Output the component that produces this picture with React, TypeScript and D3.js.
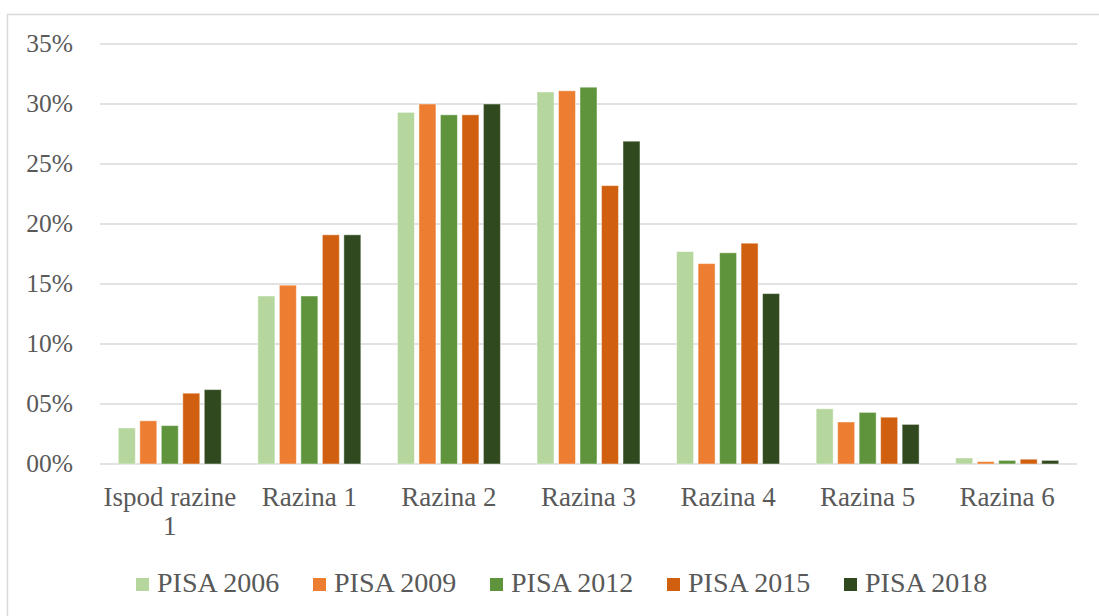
import React from "react";
import * as d3 from "d3";

const categories = ["Ispod razine 1", "Razina 1", "Razina 2", "Razina 3", "Razina 4", "Razina 5", "Razina 6"];
const seriesNames = ["PISA 2006", "PISA 2009", "PISA 2012", "PISA 2015", "PISA 2018"];
const pisa2006 = [3.0, 14.0, 29.3, 31.0, 17.7, 4.6, 0.5];
const pisa2009 = [3.6, 14.9, 30.0, 31.1, 16.7, 3.5, 0.2];
const pisa2012 = [3.2, 14.0, 29.1, 31.4, 17.6, 4.3, 0.3];
const pisa2015 = [5.9, 19.1, 29.1, 23.2, 18.4, 3.9, 0.4];
const pisa2018 = [6.2, 19.1, 30.0, 26.9, 14.2, 3.3, 0.3];
const yTicks = [0, 5, 10, 15, 20, 25, 30, 35];
const colors = ["#b5d69c", "#ed7d31", "#5f943c", "#d0600f", "#30491e"];

const seriesValues = [pisa2006, pisa2009, pisa2012, pisa2015, pisa2018];

const W = 1099;
const H = 616;
const font = "Liberation Serif, serif";
const textColor = "#595959";

export default function App() {
  const x = d3.scaleBand<string>().domain(categories).range([100, 1077]).paddingInner(0.23).paddingOuter(0.115);
  const xs = d3.scaleBand<string>().domain(seriesNames).range([0, x.bandwidth()]).paddingInner(0.21).paddingOuter(0.105);
  const y = d3.scaleLinear().domain([0, 35]).range([464, 44]);

  const fmt = (v: number) => (v < 10 ? "0" + v : "" + v) + "%";

  return (
    <svg width={W} height={H} style={{ position: "absolute", left: 0, top: 0 }}>
      <rect x={7.5} y={14.5} width={W} height={H} fill="#fff" stroke="#d9d9d9" strokeWidth={1.5} />
      {yTicks.map((t) => (
        <g key={t}>
          <line x1={100} x2={1077} y1={y(t)} y2={y(t)} stroke="#d9d9d9" strokeWidth={1.5} />
          <text x={73} y={y(t) + 8} textAnchor="end" fontFamily={font} fontSize={25.5} fill={textColor}>
            {fmt(t)}
          </text>
        </g>
      ))}
      {categories.map((c, i) => (
        <g key={c}>
          {seriesNames.map((s, j) => {
            const v = seriesValues[j][i];
            return (
              <rect
                key={s}
                x={(x(c) as number) + (xs(s) as number)}
                y={y(v)}
                width={xs.bandwidth()}
                height={y(0) - y(v)}
                fill={colors[j]}
                stroke="#ffffff"
                strokeOpacity={0.45}
                strokeWidth={1}
              />
            );
          })}
        </g>
      ))}
      {categories.map((c) => {
        const cx = (x(c) as number) + x.bandwidth() / 2;
        const lines = c === "Ispod razine 1" ? ["Ispod razine", "1"] : [c];
        return (
          <text key={c} textAnchor="middle" fontFamily={font} fontSize={27} fill={textColor}>
            {lines.map((l, k) => (
              <tspan key={k} x={cx} y={506 + k * 29}>
                {l}
              </tspan>
            ))}
          </text>
        );
      })}
      {seriesNames.map((s, j) => (
        <g key={s} transform={`translate(${136 + j * 177},578)`}>
          <rect width={13} height={13} fill={colors[j]} />
          <text x={21} y={14} fontFamily={font} fontSize={28} fill={textColor}>
            {s}
          </text>
        </g>
      ))}
    </svg>
  );
}
